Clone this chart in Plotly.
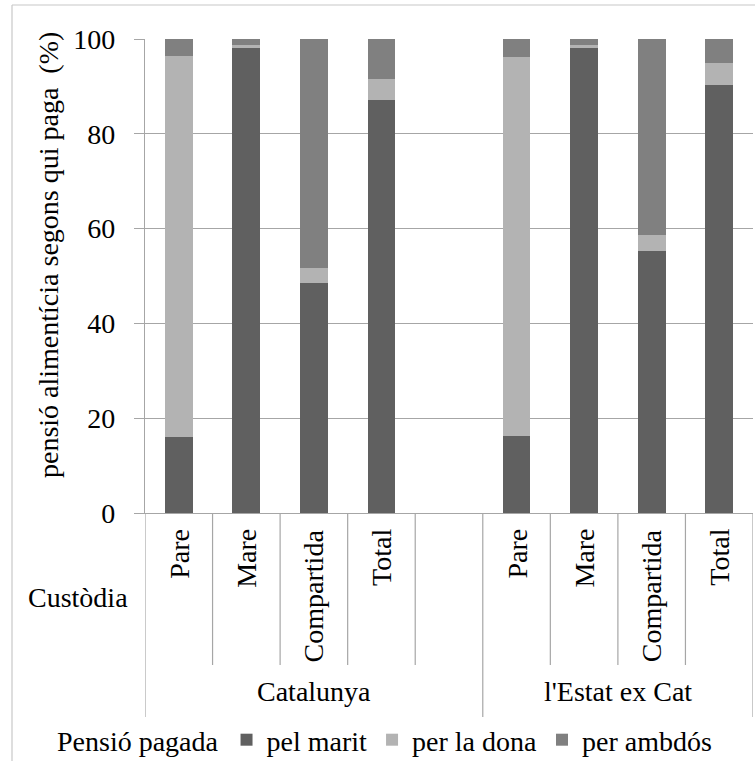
import plotly.graph_objects as go

# Data
groups = ["Catalunya", "l'Estat ex Cat"]
custodia = ["Pare", "Mare", "Compartida", "Total"]
x_pos = [0, 1, 2, 3, 5, 6, 7, 8]   # category slots (slot 4 is an empty spacer)
pel_marit = [16.0, 98.2, 48.5, 87.1, 16.3, 98.2, 55.3, 90.2]
per_la_dona = [80.5, 0.5, 3.2, 4.5, 79.8, 0.5, 3.3, 4.8]
per_ambdos = [3.5, 1.3, 48.3, 8.4, 3.9, 1.3, 41.4, 5.0]
y_ticks = [0, 20, 40, 60, 80, 100]

FONT = "'Liberation Serif', 'Times New Roman', Times, serif"
FS = 28
colors = {"pel marit": "#606060", "per la dona": "#b3b3b3", "per ambdós": "#808080"}

fig = go.Figure()
for name, vals in [("pel marit", pel_marit), ("per la dona", per_la_dona), ("per ambdós", per_ambdos)]:
    fig.add_trace(go.Bar(x=x_pos, y=vals, name=name, width=0.41,
                         marker=dict(color=colors[name], line=dict(width=0))))

W, H = 755, 761
ml, mr, mt, mb = 145, 2, 39, 248
ph = H - mt - mb

def py(px):
    return (H - mb - px) / ph

def pxx(px):
    return (px - ml) / (W - ml - mr)

shapes = []
# inner dividers
for xv in [0.5, 1.5, 2.5, 3.5, 5.5, 6.5, 7.5]:
    shapes.append(dict(type="line", xref="x", yref="paper", x0=xv, x1=xv, y0=0, y1=py(665),
                       line=dict(color="#a6a6a6", width=1.2)))
for xv in [-0.5, 4.5, 8.5]:
    shapes.append(dict(type="line", xref="x", yref="paper", x0=xv, x1=xv, y0=0, y1=py(717),
                       line=dict(color="#a6a6a6", width=1.2)))
# chart border
shapes.append(dict(type="line", xref="paper", yref="paper", x0=pxx(12), x1=pxx(12), y0=py(5), y1=py(770),
                   line=dict(color="#c8c8c8", width=1.2)))
shapes.append(dict(type="line", xref="paper", yref="paper", x0=pxx(12), x1=pxx(770), y0=py(5), y1=py(5),
                   line=dict(color="#c8c8c8", width=1.2)))

annotations = []
labels_all = custodia + custodia
for xv, lab in zip(x_pos, labels_all):
    annotations.append(dict(x=xv, xref="x", y=py(527), yref="paper", text=lab, textangle=-90,
                            showarrow=False, xanchor="center", yanchor="top",
                            font=dict(family=FONT, size=FS, color="black")))
annotations.append(dict(x=pxx(78), xref="paper", y=py(597), yref="paper", text="Custòdia",
                        showarrow=False, xanchor="center", yanchor="middle",
                        font=dict(family=FONT, size=FS, color="black")))
for xv, g in zip([2.0, 6.5], groups):
    annotations.append(dict(x=xv, xref="x", y=py(691), yref="paper", text=g,
                            showarrow=False, xanchor="center", yanchor="middle",
                            font=dict(family=FONT, size=FS, color="black")))
annotations.append(dict(x=pxx(48), xref="paper", y=py(255), yref="paper",
                        text="pensió alimentícia segons qui paga \u00a0(%)", textangle=-90,
                        showarrow=False, xanchor="center", yanchor="middle",
                        font=dict(family=FONT, size=FS, color="black")))

fig.update_layout(
    width=W, height=H,
    margin=dict(l=ml, r=mr, t=mt, b=mb, autoexpand=False),
    barmode="stack",
    plot_bgcolor="white", paper_bgcolor="white",
    font=dict(family=FONT, size=FS, color="black"),
    xaxis=dict(range=[-0.5, 8.5], showticklabels=False, showgrid=False, zeroline=False,
               showline=True, linecolor="#a6a6a6", linewidth=1.2, ticks=""),
    yaxis=dict(range=[0, 100], tickvals=y_ticks, showgrid=True, gridcolor="#a6a6a6", gridwidth=1.2,
               zeroline=False, showline=True, linecolor="#a6a6a6", linewidth=1.2,
               ticks="outside", ticklen=10, tickcolor="#a6a6a6", tickwidth=1.2,
               ticklabelstandoff=13,
               tickfont=dict(family=FONT, size=FS, color="black")),
    legend=dict(orientation="h", x=pxx(55), xanchor="left", y=py(740), yanchor="middle",
                title=dict(text="Pensió pagada", side="left", font=dict(family=FONT, size=FS)),
                font=dict(family=FONT, size=FS, color="black"),
                bgcolor="rgba(0,0,0,0)", itemwidth=30, traceorder="normal"),
    shapes=shapes, annotations=annotations,
    bargap=0.59,
)

fig.write_html("out.html", config={"displayModeBar": False},
               post_script="document.body.style.margin='0px';")
